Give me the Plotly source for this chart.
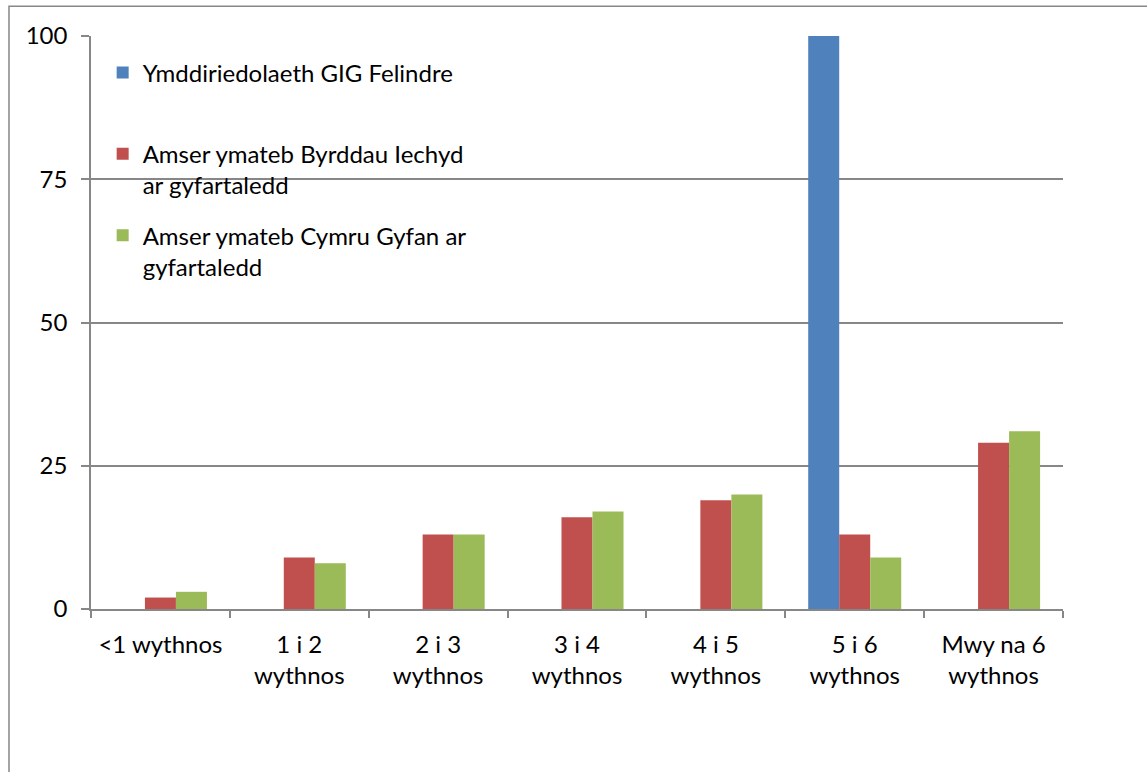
import plotly.graph_objects as go

categories = ["<1 wythnos", "1 i 2<br>wythnos", "2 i 3<br>wythnos", "3 i 4<br>wythnos",
              "4 i 5<br>wythnos", "5 i 6<br>wythnos", "Mwy na 6<br>wythnos"]
felindre = [0, 0, 0, 0, 0, 100, 0]
byrddau = [2, 9, 13, 16, 19, 13, 29]
cymru = [3, 8, 13, 17, 20, 9, 31]
series_names = ["Ymddiriedolaeth GIG Felindre<br> ",
                "Amser ymateb Byrddau Iechyd<br>ar gyfartaledd",
                "Amser ymateb Cymru Gyfan ar<br>gyfartaledd"]
series_values = [felindre, byrddau, cymru]
colors = ["#4F81BD", "#C0504D", "#9BBB59"]
y_ticks = [0, 25, 50, 75, 100]

FONT = "Lato"
GRID = "#878787"

fig = go.Figure()
for i, (name, vals, col) in enumerate(zip(series_names, series_values, colors)):
    fig.add_trace(go.Bar(x=categories, y=vals, name=name, marker_color=col,
                         marker_line_width=0, legendgroup=f"g{i}"))

fig.update_layout(
    width=1147, height=772,
    margin=dict(l=91, r=84, t=36, b=162.5),
    paper_bgcolor="white", plot_bgcolor="white",
    barmode="group", bargap=0.33, bargroupgap=0,
    font=dict(family=FONT, size=24, color="black"),
    showlegend=True,
    legend=dict(x=0.012, y=0.975, xanchor="left", yanchor="top",
                bgcolor="rgba(0,0,0,0)", font=dict(family=FONT, size=24),
                valign="top", tracegroupgap=16, traceorder="grouped"),
    xaxis=dict(showline=True, linecolor=GRID, linewidth=1.5, ticks="outside",
               tickson="boundaries", ticklen=7, tickcolor=GRID, tickwidth=1.5,
               showgrid=False, ticklabelstandoff=13, mirror=False),
    yaxis=dict(range=[0, 100], tickvals=y_ticks, showline=True, linecolor=GRID,
               linewidth=1.5, ticks="outside", ticklen=8, tickcolor=GRID, tickwidth=1.5,
               showgrid=True, gridcolor=GRID, gridwidth=1.5, zeroline=False,
               ticklabelstandoff=9),
    shapes=[dict(type="rect", xref="paper", yref="paper",
                 x0=(9 - 91) / 972, x1=1.3, y0=-0.5, y1=(609.5 - 6) / 573.8,
                 line=dict(color=GRID, width=1.5), fillcolor="rgba(0,0,0,0)", layer="below")],
)

fig.write_html("out.html", config={"displayModeBar": False},
               post_script="document.body.style.margin='0';")
